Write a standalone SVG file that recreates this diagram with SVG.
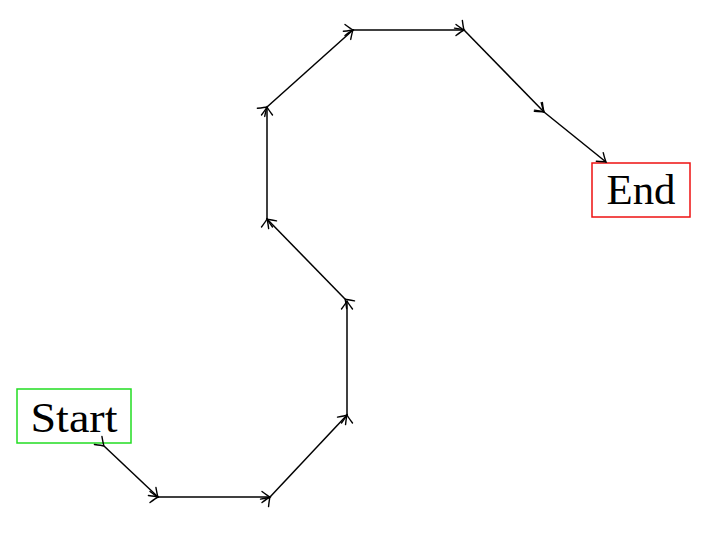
<svg xmlns="http://www.w3.org/2000/svg" width="724" height="540" viewBox="0 0 724 540">
<style>
.edge{fill:none;stroke:#000;stroke-width:1.5;marker-start:url(#to);marker-end:url(#to)}
.lbl{font-family:"Liberation Serif","DejaVu Serif",serif;font-size:43px;fill:#000;text-anchor:middle}
</style>
<defs>
<marker id="to" markerUnits="userSpaceOnUse" viewBox="-10 -6 12 12" refX="0" refY="0" markerWidth="12" markerHeight="12" orient="auto" overflow="visible">
<path d="M-8,-5.5 Q-2,-1 0,0 Q-2,1 -8,5.5" fill="none" stroke="#000" stroke-width="1.4" stroke-linecap="round"/>
</marker>
</defs>
<rect width="724" height="540" fill="#fff"/>
<g id="start">
<rect x="17" y="389" width="114" height="54" fill="none" stroke="#22dd22" stroke-width="1.5"/>
<text class="lbl" x="74" y="432" textLength="87" lengthAdjust="spacingAndGlyphs">Start</text>
</g>
<g id="end">
<rect x="592" y="163" width="98" height="54" fill="none" stroke="#ee1111" stroke-width="1.5"/>
<text class="lbl" x="641" y="204" textLength="69" lengthAdjust="spacingAndGlyphs">End</text>
</g>
<g id="connectors">
<path class="edge" d="M104,446 L158,497"/>
<path class="edge" d="M158,497 L270,497"/>
<path class="edge" d="M270,497 L347,415"/>
<path class="edge" d="M347,415 L347,301"/>
<path class="edge" d="M345,299 L267,219"/>
<path class="edge" d="M267,219 L267,107"/>
<path class="edge" d="M267,107 L353,30"/>
<path class="edge" d="M353,30 L464,30"/>
<path class="edge" d="M464,30 L544,112"/>
<path class="edge" d="M544,112 L606,162"/>
</g>
</svg>
